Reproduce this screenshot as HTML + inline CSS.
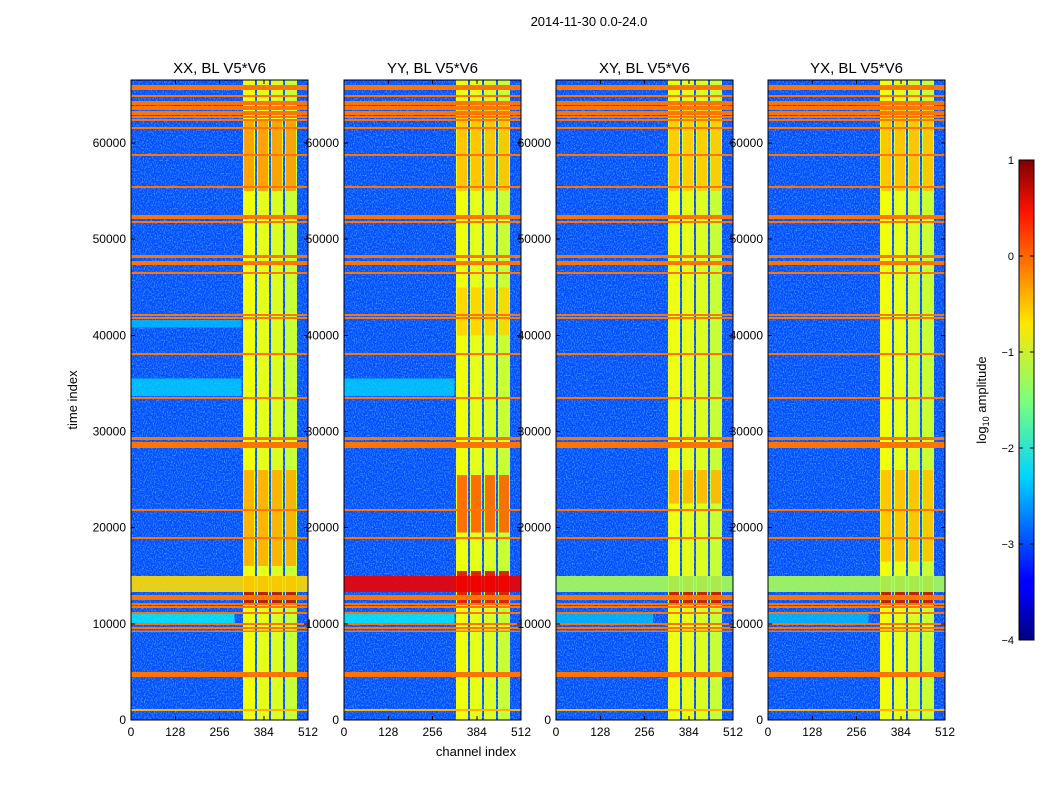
<!DOCTYPE html>
<html><head><meta charset="utf-8"><style>
body{margin:0;background:#fff;}
svg text{font-family:"Liberation Sans",sans-serif;}
</style></head><body>
<svg id="fig" width="1050" height="800" xmlns="http://www.w3.org/2000/svg">
<defs>
<filter id="noise" x="0" y="0" width="100%" height="100%">
<feTurbulence type="fractalNoise" baseFrequency="0.9 0.6" numOctaves="1" seed="3"/>
<feColorMatrix type="matrix" values="0 0 0 0 0.2  0 0 0 0 0.6  0 0 0 0 1  0 0 0 1.8 -0.8"/>
</filter>
<linearGradient id="cbgrad" x1="0" y1="1" x2="0" y2="0">
<stop offset="0" stop-color="#00007f"/><stop offset="0.11" stop-color="#0000ff"/><stop offset="0.125" stop-color="#0000ff"/>
<stop offset="0.34" stop-color="#00d4ff"/><stop offset="0.5" stop-color="#7dff7a"/><stop offset="0.66" stop-color="#ffe600"/>
<stop offset="0.89" stop-color="#ff1400"/><stop offset="1" stop-color="#7f0000"/>
</linearGradient>
</defs>
<text x="589" y="26" font-size="13" text-anchor="middle">2014-11-30 0.0-24.0</text>
<text x="476" y="756" font-size="13" text-anchor="middle">channel index</text>
<text x="77" y="400" font-size="13" text-anchor="middle" transform="rotate(-90 77 400)">time index</text>
<g id="panels" shape-rendering="crispEdges"></g>
<g>
<rect x="1019" y="160" width="15" height="480" fill="url(#cbgrad)" stroke="#000" stroke-width="1"/>
</g>
<text x="986" y="400" font-size="13" text-anchor="middle" transform="rotate(-90 986 400)">log<tspan font-size="9" dy="3">10</tspan><tspan dy="-3"> amplitude</tspan></text>
</svg>
<script>
// ---- data ----
const titles = ["XX, BL V5*V6","YY, BL V5*V6","XY, BL V5*V6","YX, BL V5*V6"];
const panelLeft = [131, 344, 556, 768];
const xTicks = [0,128,256,384,512];
const yTicks = [0,10000,20000,30000,40000,50000,60000];
const cbTicks = [1,0,-1,-2,-3,-4];
const backgroundValue = -3.0;
// vertical stripes: channel ranges and values
const stripeStart = [324,364,405,445];
const stripeEnd   = [359,399,440,480];
const stripeValue = [-0.95,-1.0,-1.05,-1.15];
// horizontal RFI lines: time centre, width (time units), value
const lineTime  = [65780,64900,64270,64060,63750,63540,63230,63020,62710,62400,61570,58760,55430,52420,52210,51790,48200,47530,46490,42120,41810,38060,33490,29280,28810,28600,28390,21840,18930,12740,12060,11750,11130,9980,9570,9250,4730,1040];
const lineWidth = [520,250,80,80,80,80,80,80,80,80,90,130,80,80,80,80,330,420,80,80,80,90,90,300,80,80,80,90,90,500,80,80,80,80,80,80,520,90];
const lineValue = [-0.2,-0.2,-0.2,-0.2,-0.2,-0.2,-0.2,-0.2,-0.2,-0.2,-0.2,-0.2,-0.2,-0.2,-0.2,-0.2,-0.2,-0.2,-0.2,-0.2,-0.2,-0.2,-0.2,-0.2,-0.2,-0.2,-0.2,-0.2,-0.2,-0.2,-0.2,-0.2,-0.2,-0.2,-0.2,-0.2,-0.2,-0.5];
// big RFI band (13300-15000) value per panel
const bandStart = 13300, bandEnd = 15000;
const bandValue = [-0.7, 0.45, -1.3, -1.3];
// broad faint bands [panel, t0, t1, chanEnd, value]
const faintPanel = [0,0,1,1,2,3,0];
const faintT0    = [10090,33700,10090,33700,10090,10090,40800];
const faintT1    = [11130,35500,11130,35500,11130,11130,41600];
const faintChan  = [300,320,320,320,280,290,320];
const faintValue = [-2.1,-2.3,-2.1,-2.3,-2.4,-2.4,-2.4];
// blobs inside stripes [panel, t0, t1, value]
const blobPanel = [0,0,0,1,1,1,1,2,2,2,3,3,3];
const blobT0    = [55000,16000,12000,12000,19500,40000,55000,12000,22500,55000,12000,16500,55000];
const blobT1    = [62500,26000,15000,15500,25500,45000,64000,15000,26000,64000,15000,26000,64000];
const blobValue = [-0.35,-0.45,0.8,0.55,-0.05,-0.65,-0.55,0.7,-0.5,-0.6,0.75,-0.55,-0.55];

// ---- scales ----
const TMAX = 66560, PW = 177, PTOP = 80, PBOT = 720;
const yS = t => PBOT - t/TMAX*(PBOT-PTOP);
const xS = (p,c) => panelLeft[p] + c/512*PW;
function jet(v){
  const t = Math.max(0,Math.min(1,(v+4)/5));
  const f = x => Math.round(255*Math.max(0,Math.min(1,x)));
  return `rgb(${f(1.5-Math.abs(4*t-3))},${f(1.5-Math.abs(4*t-2))},${f(1.5-Math.abs(4*t-1))})`;
}
const NS = "http://www.w3.org/2000/svg";
function mk(tag, attrs, parent){
  const e = document.createElementNS(NS, tag);
  for (const k in attrs) e.setAttribute(k, attrs[k]);
  parent.appendChild(e); return e;
}
const root = document.getElementById('panels');
for (let p=0;p<4;p++){
  const g = mk('g',{},root);
  
  
  const x0 = panelLeft[p];
  const bg = mk('rect',{x:x0,y:PTOP,width:PW,height:PBOT-PTOP,fill:jet(backgroundValue)},g);
  
  
  const nz = mk('rect',{x:x0,y:PTOP,width:PW,height:PBOT-PTOP,fill:'#fff',filter:'url(#noise)'},g);
  
  
  for (let i=0;i<faintPanel.length;i++){ if (faintPanel[i]!==p) continue;
    const r = mk('rect',{x:x0,y:yS(faintT1[i]),width:xS(p,faintChan[i])-x0,height:yS(faintT0[i])-yS(faintT1[i]),fill:jet(faintValue[i]),opacity:0.75},g);
    
    
  }
  for (let i=0;i<stripeStart.length;i++){
    const r = mk('rect',{x:xS(p,stripeStart[i]),y:PTOP,width:xS(p,stripeEnd[i])-xS(p,stripeStart[i]),height:PBOT-PTOP,fill:jet(stripeValue[i])},g);
    
    
  }
  for (let i=0;i<blobPanel.length;i++){ if (blobPanel[i]!==p) continue;
    for (let s=0;s<stripeStart.length;s++){
      const r = mk('rect',{x:xS(p,stripeStart[s])+1,y:yS(blobT1[i]),width:xS(p,stripeEnd[s])-xS(p,stripeStart[s])-2,height:yS(blobT0[i])-yS(blobT1[i]),fill:jet(blobValue[i]),opacity:0.85},g);
      
      
    }
  }
  const band = mk('rect',{x:x0,y:yS(bandEnd),width:PW,height:yS(bandStart)-yS(bandEnd),fill:jet(bandValue[p]),opacity:0.9},g);
  
  
  for (let i=0;i<lineTime.length;i++){
    const h = Math.max(1.6, lineWidth[i]/TMAX*(PBOT-PTOP));
    const r = mk('rect',{x:x0,y:yS(lineTime[i])-h/2,width:PW,height:h,fill:jet(lineValue[i])},g);
    
    
  }
  const fr = mk('rect',{x:x0,y:PTOP,width:PW,height:PBOT-PTOP,fill:'none',stroke:'#000','stroke-width':1},g);
  
  
  const tt = mk('text',{x:x0+PW/2,y:73,'font-size':15,'text-anchor':'middle'},g);
  tt.textContent = titles[p];
  
  
  for (const c of xTicks){
    const x = xS(p,c);
    mk('line',{x1:x,x2:x,y1:PBOT,y2:PBOT-4,stroke:'#000'},g);
    mk('line',{x1:x,x2:x,y1:PTOP,y2:PTOP+4,stroke:'#000'},g);
    const t = mk('text',{x:x,y:736,'font-size':12,'text-anchor':'middle'},g);
    t.textContent = c;
    
    
  }
  for (const v of yTicks){
    const y = yS(v);
    mk('line',{x1:x0,x2:x0+4,y1:y,y2:y,stroke:'#000'},g);
    mk('line',{x1:x0+PW,x2:x0+PW-4,y1:y,y2:y,stroke:'#000'},g);
    const t = mk('text',{x:x0-5,y:y+4,'font-size':12,'text-anchor':'end'},g);
    t.textContent = v;
    
    
  }
}
const svg = document.getElementById('fig');
for (const v of cbTicks){
  const y = 640 - (v+4)/5*480;
  mk('line',{x1:1019,x2:1023,y1:y,y2:y,stroke:'#000'},svg);
  mk('line',{x1:1034,x2:1030,y1:y,y2:y,stroke:'#000'},svg);
  const t = mk('text',{x:1014,y:y+4,'font-size':11,'text-anchor':'end'},svg);
  t.textContent = v<0 ? '\u2212'+(-v) : v;
  
  
}
</script>
</body></html>
